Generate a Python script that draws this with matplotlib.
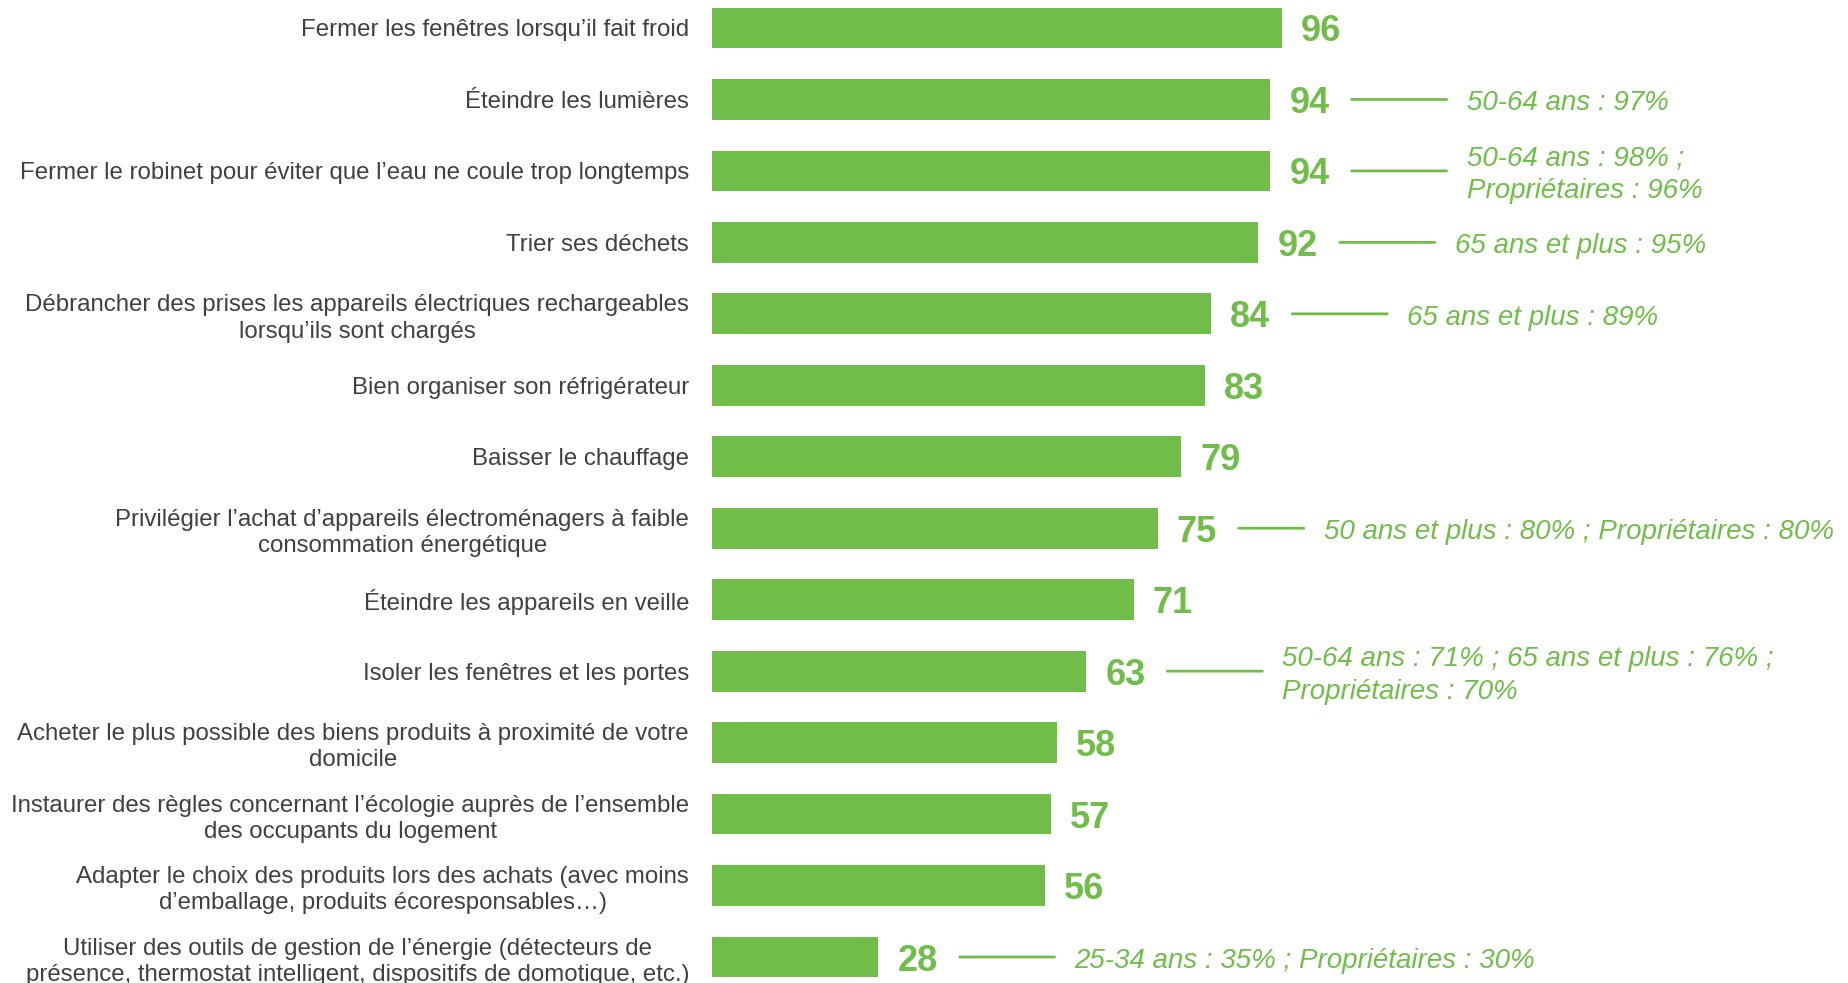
import matplotlib.pyplot as plt

# --- data ---
labels = [
    "Fermer les fenêtres lorsqu’il fait froid",
    "Éteindre les lumières",
    "Fermer le robinet pour éviter que l’eau ne coule trop longtemps",
    "Trier ses déchets",
    "Débrancher des prises les appareils électriques rechargeables\nlorsqu’ils sont chargés",
    "Bien organiser son réfrigérateur",
    "Baisser le chauffage",
    "Privilégier l’achat d’appareils électroménagers à faible\nconsommation énergétique",
    "Éteindre les appareils en veille",
    "Isoler les fenêtres et les portes",
    "Acheter le plus possible des biens produits à proximité de votre\ndomicile",
    "Instaurer des règles concernant l’écologie auprès de l’ensemble\ndes occupants du logement",
    "Adapter le choix des produits lors des achats (avec moins\nd’emballage, produits écoresponsables…)",
    "Utiliser des outils de gestion de l’énergie (détecteurs de\nprésence, thermostat intelligent, dispositifs de domotique, etc.)",
]
values = [96, 94, 94, 92, 84, 83, 79, 75, 71, 63, 58, 57, 56, 28]
notes = [
    None,
    "50-64 ans : 97%",
    "50-64 ans : 98% ;\nPropriétaires : 96%",
    "65 ans et plus : 95%",
    "65 ans et plus : 89%",
    None,
    None,
    "50 ans et plus : 80% ; Propriétaires : 80%",
    None,
    "50-64 ans : 71% ; 65 ans et plus : 76% ;\nPropriétaires : 70%",
    None,
    None,
    None,
    "25-34 ans : 35% ; Propriétaires : 30%",
]

GREEN = "#70BE49"
GREY = "#404040"

plt.rcParams['font.family'] = ['Liberation Sans', 'DejaVu Sans']

fig = plt.figure(figsize=(18.49, 9.83), dpi=100)
ax = fig.add_axes([712 / 1849, 0, 1 - 712 / 1849, 1])

pos = list(range(len(values)))
ax.barh(pos, values, height=0.57, color=GREEN)

ax.set_xlim(0, 1137 / 5.94)
ax.set_ylim(13 + 26 / 71.5, -28 / 71.5)

ax.set_yticks(pos)
ax.set_yticklabels(labels, fontsize=17.3, color=GREY)
plt.setp(ax.get_yticklabels(), multialignment='center', linespacing=1.25)
ax.tick_params(axis='y', length=0, pad=16.5)
ax.set_xticks([])
for s in ax.spines.values():
    s.set_visible(False)

for i, (v, note) in enumerate(zip(values, notes)):
    val_txt = ax.annotate(str(v), xy=(v, i), xytext=(19, -4),
                          textcoords='offset pixels', ha='left', va='center',
                          fontsize=26, fontweight='bold', color=GREEN)
    if not note:
        continue
    # the long single-line note has a shorter connector
    line_len = 65 if len(note) > 40 and "\n" not in note else 95
    ax.annotate('', xy=(1, i), xycoords=(val_txt, 'data'),
                xytext=(22 + line_len, 0), textcoords='offset pixels',
                arrowprops=dict(arrowstyle='-', color=GREEN, lw=2,
                                shrinkA=0, shrinkB=22 * 0.72))
    ax.annotate(note, xy=(1, i), xycoords=(val_txt, 'data'),
                xytext=(22 + line_len + 20, -4), textcoords='offset pixels',
                ha='left', va='center', fontsize=20, fontstyle='italic',
                linespacing=1.35, color=GREEN)

fig.savefig("out.png", dpi=100)
